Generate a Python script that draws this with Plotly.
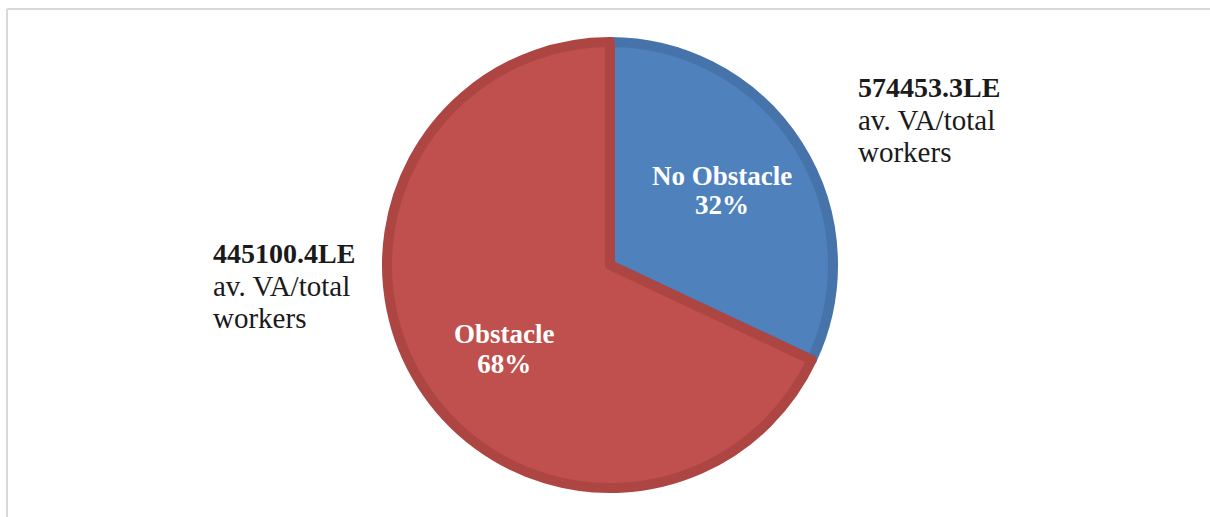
import plotly.graph_objects as go

labels = ["No Obstacle", "Obstacle"]
values = [32, 68]
fill_colors = ["#4F81BD", "#C0504D"]
edge_colors = ["#4673AA", "#AD4643"]
avg_va = ["574453.3LE", "445100.4LE"]
va_caption = ["av. VA/total", "workers"]

W, H = 1210, 517
def px(x): return x / W
def py(y): return 1 - y / H

fig = go.Figure()
fig.add_trace(go.Pie(
    labels=labels, values=values, sort=False, direction="clockwise", rotation=0,
    marker=dict(colors=fill_colors, line=dict(color=edge_colors, width=10)),
    textinfo="none", hoverinfo="label+percent", showlegend=False,
    domain=dict(x=[px(387), px(833)], y=[py(488), py(42)]),
))

serif = "Liberation Serif"

def inside(lbl, val):
    return f"<span style='font-size:27px'><b>{lbl}<br>{val}%</b></span>"

def side(v):
    cap = "<br>".join(f"<span style='font-size:29px'>{c}</span>" for c in va_caption)
    return f"<span style='font-size:28px'><b>{v}</b></span><br>{cap}"

# inside labels
fig.add_annotation(x=px(722), y=py(190), xref="paper", yref="paper", xanchor="center", yanchor="middle",
                   text=inside(labels[0], values[0]), showarrow=False,
                   font=dict(family=serif, size=22, color="white"), align="center")
fig.add_annotation(x=px(504), y=py(349), xref="paper", yref="paper", xanchor="center", yanchor="middle",
                   text=inside(labels[1], values[1]), showarrow=False,
                   font=dict(family=serif, size=23, color="white"), align="center")
# side labels
fig.add_annotation(x=px(856), y=py(70), xref="paper", yref="paper", xanchor="left", yanchor="top",
                   text=side(avg_va[0]), showarrow=False,
                   font=dict(family=serif, size=25, color="#1a1a1a"), align="left")
fig.add_annotation(x=px(211), y=py(236), xref="paper", yref="paper", xanchor="left", yanchor="top",
                   text=side(avg_va[1]), showarrow=False,
                   font=dict(family=serif, size=25, color="#1a1a1a"), align="left")

# chart frame (partially visible)
fig.add_shape(type="line", xref="paper", yref="paper", x0=px(7), x1=px(7), y0=py(9), y1=py(530),
              line=dict(color="#d9d9d9", width=2))
fig.add_shape(type="line", xref="paper", yref="paper", x0=px(7), x1=px(1220), y0=py(9), y1=py(9),
              line=dict(color="#d9d9d9", width=2))

fig.update_layout(width=W, height=H, margin=dict(l=0, r=0, t=0, b=0),
                  paper_bgcolor="white", plot_bgcolor="white")
fig.write_html("out.html", config={"displayModeBar": False},
               post_script="document.body.style.margin='0';document.body.style.overflow='hidden';")
